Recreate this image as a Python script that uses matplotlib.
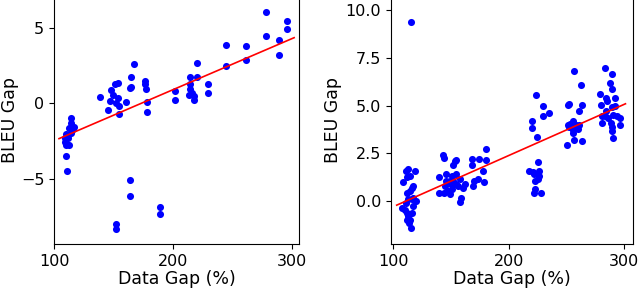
import matplotlib
matplotlib.use("Agg")
import matplotlib.pyplot as plt

# left panel: data gap (%) vs BLEU gap
left_x = [110.4, 109, 110.4, 113, 110.4, 111, 114.6, 114.6, 113, 117, 111.5, 109, 114.6, 116, 112,
          139, 145.5, 147, 148, 151, 154, 149.7, 154, 154.5, 154.5, 152.5, 160.4, 164.3, 164.6, 167,
          165, 163.8, 163.8, 152, 152, 176.4, 176.4, 177, 178.4, 178.4, 189, 189,
          202.2, 202.2, 214.3, 214.3, 214.3, 213.8, 216, 218, 218, 220, 220, 229.2, 229.2,
          244.4, 244.4, 261.2, 261.2, 278.7, 278.7, 289.6, 289.6, 296.3, 296.3]
left_y = [-2.0, -2.55, -2.77, -2.77, -3.45, -4.47, -1.0, -1.3, -1.65, -1.55, -2.3, -2.3, -1.95, -1.7, -2.1,
          0.4, -0.42, 0.13, 0.9, 1.25, 1.36, 0.58, 0.36, -0.2, -0.72, 0.02, 0.09, 1.03, 1.77, 2.57,
          1.08, -5.06, -6.13, -7.96, -8.32, 1.48, 1.3, 0.92, 0.09, -0.58, -6.85, -7.32,
          0.8, 0.25, 1.77, 1.25, 0.92, 0.58, 0.69, 0.51, 0.25, 2.7, 1.77, 1.25, 0.69,
          3.83, 2.48, 3.8, 2.86, 6.04, 4.47, 4.16, 3.2, 5.46, 4.94]
left_fit_x = [104.2, 302]
left_fit_y = [-2.33, 4.34]

# right panel
right_x = [115.2, 108.6, 111, 113, 112, 114.4, 118.7, 112, 114.4, 115.8, 117.3, 119.5, 107.2, 110,
           111.5, 113, 114.4, 113.8, 115, 116, 111, 113, 116.7, 112, 117.3, 115.8,
           139.7, 139.7, 143, 143.6, 146, 145.5, 147.5, 149, 150, 151.7, 153, 154, 154.5, 151,
           151.7, 156, 157.5, 159, 158.1, 161.8, 160.3, 144.8, 149, 154.5, 143.6, 150.5,
           168.4, 168.4, 169.5, 168.9, 174, 173.5, 177.6, 178.2, 180.5, 180.5,
           217.2, 219.8, 220, 223.6, 224.1, 225.3, 222, 223, 223, 222, 225.9, 225.9, 227.9,
           229.9, 229.9, 234.5, 220.7, 225,
           250.3, 251, 252.4, 251, 251.9, 253.1, 254.8, 256, 256.6, 256.6, 255.4, 258.3,
           261.2, 261.2, 262.4, 263.3, 263.3, 259.5, 255.4,
           279, 279.6, 280.4, 281, 283.3, 283.9, 283.9, 283.3, 285.3, 286.2, 287.4, 288.3,
           289.6, 289.6, 290.2, 289.6, 289.6, 290.5, 292, 292, 289.6, 296, 296, 294]
right_y = [9.36, 0.98, 1.6, 1.69, 1.24, 1.33, 1.6, 0.44, 0.53, 0.71, 0.8, 0.0, -0.36, -0.44,
           -0.62, -0.8, -0.98, -1.15, -1.42, -0.62, -0.09, 0.09, -0.27, -0.98, 0.18, 0.09,
           1.24, 0.44, 2.4, 2.25, 1.42, 1.07, 0.53, 0.36, 0.89, 1.87, 2.08, 2.13, 1.42, 1.33,
           1.07, 0.8, 1.15, 0.18, -0.05, 0.89, 0.71, 0.8, 1.07, 0.89, 0.44, 0.62,
           2.22, 1.87, 1.07, 0.8, 2.22, 1.15, 1.6, 0.98, 2.75, 2.13,
           1.6, 4.2, 3.85, 5.56, 3.34, 2.04, 1.42, 1.07, 0.62, 0.44, 1.6, 1.33, 0.41,
           4.97, 4.48, 4.6, 1.51, 1.15,
           2.93, 5.06, 5.1, 4.0, 3.86, 4.04, 3.9, 3.55, 3.2, 6.84, 3.75, 4.0,
           4.7, 4.0, 6.06, 5.06, 3.16, 3.8, 4.2,
           5.6, 5.06, 4.1, 4.44, 6.98, 5.4, 4.7, 4.44, 5.24, 4.35, 6.2, 4.1,
           6.66, 5.86, 4.5, 3.9, 3.68, 3.3, 5.4, 5.0, 4.94, 4.35, 4.0, 4.44]
right_fit_x = [102.9, 301]
right_fit_y = [-0.21, 5.1]

plt.rcParams['font.family'] = 'DejaVu Sans'
plt.rcParams['xtick.labelsize'] = 11.5
plt.rcParams['ytick.labelsize'] = 11.5
plt.rcParams['axes.labelsize'] = 12.5

fig = plt.figure(figsize=(6.4, 2.92), dpi=100)
ax1 = fig.add_axes([0.0844, 0.164, 0.3826, 0.85])
ax2 = fig.add_axes([0.611, 0.164, 0.378, 0.85])

ax1.scatter(left_x, left_y, s=26, color='#0000ff', linewidths=0, zorder=2)
ax1.plot(left_fit_x, left_fit_y, color='red', lw=1.2, zorder=3)
ax1.set_xlim(100, 306)
ax1.set_ylim(-9.3, 7.1)
ax1.set_xticks([100, 200, 300])
ax1.set_yticks([-5, 0, 5])
ax1.set_xlabel('Data Gap (%)', labelpad=1)
ax1.set_ylabel('BLEU Gap', labelpad=1)

ax2.scatter(right_x, right_y, s=26, color='#0000ff', linewidths=0, zorder=2)
ax2.plot(right_fit_x, right_fit_y, color='red', lw=1.2, zorder=3)
ax2.set_xlim(98, 307.5)
ax2.set_ylim(-2.25, 10.75)
ax2.set_xticks([100, 200, 300])
ax2.set_yticks([0, 2.5, 5, 7.5, 10])
ax2.set_yticklabels(['0.0', '2.5', '5.0', '7.5', '10.0'])
ax2.set_xlabel('Data Gap (%)', labelpad=1)
ax2.set_ylabel('BLEU Gap', labelpad=3)

fig.savefig('out.png', dpi=100)
